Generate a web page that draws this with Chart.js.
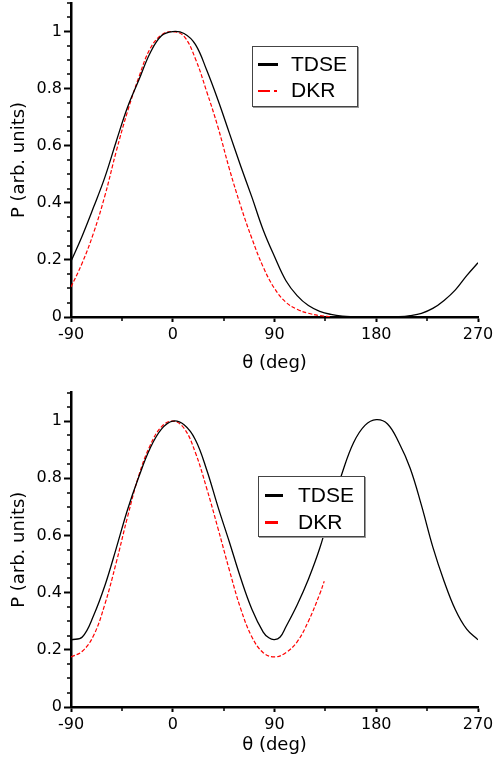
<!DOCTYPE html>
<html>
<head>
<meta charset="utf-8">
<script src="https://cdn.jsdelivr.net/npm/chart.js@4.4.1/dist/chart.umd.min.js"></script>
<style>
  body { margin: 0; background: #fff; }
  .wrap { position: absolute; left: 0; width: 494px; }
  .legend { position: absolute; border: 1.5px solid #444; box-shadow: 1px 1px 0 #999; background: #fff; }
  .legend .txt { position: absolute; font: 21px "Liberation Sans", Arial, sans-serif; line-height: 24px; color: #000; }
  .legend .ln { position: absolute; height: 0; }
</style>
</head>
<body>
<div class="wrap" style="top:0;height:383px"><canvas id="chart-top" width="494" height="383"></canvas></div>
<div class="wrap" style="top:383px;height:384px"><canvas id="chart-bottom" width="494" height="384"></canvas></div>

<!-- legends sit inside the plot areas, as in the figure -->
<div class="legend" style="left:252px;top:46px;width:104px;height:59px">
  <div class="ln" style="left:5px;top:16px;width:20px;border-top:3px solid #000"></div>
  <div class="txt" style="left:38px;top:5px">TDSE</div>
  <div class="ln" style="left:5px;top:43px;width:12px;border-top:2px solid #f00"></div>
  <div class="ln" style="left:21px;top:43px;width:3px;border-top:2px solid #f00"></div>
  <div class="txt" style="left:38px;top:31px">DKR</div>
</div>
<div class="legend" style="left:258px;top:476px;width:105px;height:59px">
  <div class="ln" style="left:6px;top:17px;width:18px;border-top:3px solid #000"></div>
  <div class="txt" style="left:39px;top:6px">TDSE</div>
  <div class="ln" style="left:6px;top:44px;width:13px;border-top:3px solid #f00"></div>
  <div class="txt" style="left:39px;top:33px">DKR</div>
</div>

<script>
// angles (deg)
const thetaFull = [-90, -80, -70, -60, -50, -40, -30, -20, -10, 0, 10, 20, 30, 40, 50, 60, 70, 80, 90,
    100, 110, 120, 130, 140, 150, 160, 170, 180, 190, 200, 210, 220, 230, 240, 250, 260, 270];
const thetaTdseBottom = [-90, -80, -70, -60, -50, -40, -30, -20, -10, 0, 10, 20, 30, 40, 50, 60, 70, 80, 85, 90,
    95, 100, 110, 120, 130, 140, 150, 160, 170, 180, 190, 200, 210, 220, 230, 240, 250, 260, 270];
const thetaDkrTop = [-90, -80, -70, -60, -50, -40, -30, -20, -10, 0, 10, 20, 30, 40, 50, 60, 70, 80, 90,
    100, 110, 120, 130, 140];
const thetaDkrBottom = [-90, -80, -70, -60, -50, -40, -30, -20, -10, 0, 10, 20, 30, 40, 50, 60, 70, 80, 90,
    100, 110, 120, 130, 134];

// top panel
const tdseTop = [0.195, 0.285, 0.385, 0.49, 0.615, 0.735, 0.83, 0.925, 0.985, 1.0, 0.993, 0.955, 0.865, 0.76,
    0.645, 0.53, 0.42, 0.305, 0.212, 0.128, 0.075, 0.04, 0.02, 0.009, 0.003, 0.001, 0, 0, 0, 0.001, 0.005,
    0.013, 0.03, 0.058, 0.095, 0.145, 0.19];
const dkrTop = [0.105, 0.19, 0.295, 0.425, 0.58, 0.72, 0.84, 0.94, 0.988, 1.0, 0.983, 0.905, 0.79, 0.665,
    0.52, 0.39, 0.275, 0.175, 0.1, 0.052, 0.027, 0.013, 0.005, 0.001];

// bottom panel
const tdseBottom = [0.235, 0.245, 0.32, 0.425, 0.555, 0.69, 0.805, 0.905, 0.972, 1.0, 0.987, 0.935, 0.83, 0.70,
    0.578, 0.452, 0.342, 0.262, 0.242, 0.236, 0.245, 0.28, 0.357, 0.447, 0.555, 0.69, 0.82, 0.925, 0.985,
    1.005, 0.99, 0.925, 0.835, 0.705, 0.56, 0.44, 0.34, 0.272, 0.235];
const dkrBottom = [0.175, 0.195, 0.25, 0.36, 0.505, 0.665, 0.81, 0.915, 0.98, 1.0, 0.975, 0.89, 0.765, 0.625,
    0.48, 0.345, 0.245, 0.19, 0.175, 0.19, 0.228, 0.3, 0.395, 0.44];

// ticks
const xMinor = [-45, 45, 135, 225];
const yMinorStep = 0.05;

function pts(xs, ys) { return xs.map((x, i) => ({ x: x, y: ys[i] })); }

// minor ticks (Chart.js has none of its own)
const minorTicks = {
    id: 'minorTicks',
    afterDraw(chart) {
        const ctx = chart.ctx, xs = chart.scales.x, ys = chart.scales.y;
        const area = chart.chartArea;
        ctx.save();
        ctx.strokeStyle = '#000';
        ctx.lineWidth = 1.5;
        ctx.beginPath();
        xMinor.forEach(v => {
            const px = Math.round(xs.getPixelForValue(v));
            ctx.moveTo(px, area.bottom);
            ctx.lineTo(px, area.bottom + 4);
        });
        for (let k = 1; k * yMinorStep <= 1.1 + 1e-9; k++) {
            if (k % 4 === 0) continue;
            const py = Math.round(ys.getPixelForValue(k * yMinorStep));
            ctx.moveTo(area.left - 4, py);
            ctx.lineTo(area.left, py);
        }
        ctx.stroke();
        ctx.restore();
    }
};

function makeChart(id, tdseX, tdse, dkrX, dkr, padTop, xHeight, titlePadBottom) {
    const ctx = document.getElementById(id).getContext('2d');
    return new Chart(ctx, {
        type: 'line',
        data: {
            datasets: [
                { label: 'TDSE', data: pts(tdseX, tdse), borderColor: '#000', borderWidth: 1.3,
                  pointRadius: 0, tension: 0.4 },
                { label: 'DKR', data: pts(dkrX, dkr), borderColor: '#ff0000', borderWidth: 1.2,
                  borderDash: [4, 2], pointRadius: 0, tension: 0.4 }
            ]
        },
        options: {
            responsive: false,
            animation: false,
            devicePixelRatio: 1,
            layout: { padding: { left: 0, right: 16, top: padTop, bottom: 0 } },
            plugins: { legend: { display: false }, tooltip: { enabled: false } },
            scales: {
                x: {
                    type: 'linear', min: -90, max: 270,
                    border: { display: true, color: '#000', width: 2.5 },
                    grid: { drawOnChartArea: false, drawTicks: true, tickLength: 5, tickColor: '#000', tickWidth: 2 },
                    ticks: { stepSize: 90, includeBounds: false, maxRotation: 0, padding: 3, color: '#000',
                             font: { family: '"DejaVu Sans", Verdana, sans-serif', size: 16 } },
                    title: { display: true, text: 'θ (deg)', color: '#000', padding: { top: 0, bottom: titlePadBottom },
                             font: { family: '"DejaVu Sans", Verdana, sans-serif', size: 18 } },
                    afterFit(s) { s.height = xHeight; s.paddingLeft = 0; s.paddingRight = 0; }
                },
                y: {
                    min: 0, max: 1.1,
                    border: { display: true, color: '#000', width: 2.5 },
                    grid: { drawOnChartArea: false, drawTicks: true, tickLength: 7, tickColor: '#000', tickWidth: 2 },
                    ticks: { stepSize: 0.2, includeBounds: false, padding: 2, color: '#000',
                             font: { family: '"DejaVu Sans", Verdana, sans-serif', size: 16 },
                             callback: v => String(+v.toFixed(2)) },
                    title: { display: true, text: 'P (arb. units)', color: '#000', padding: { top: 9, bottom: 0 },
                             font: { family: '"DejaVu Sans", Verdana, sans-serif', size: 18 } },
                    afterFit(s) { s.width = 71; s.paddingTop = 0; s.paddingBottom = 0; }
                }
            }
        },
        plugins: [minorTicks]
    });
}

makeChart('chart-top', thetaFull, tdseTop, thetaDkrTop, dkrTop, 3, 66, 9);
makeChart('chart-bottom', thetaTdseBottom, tdseBottom, thetaDkrBottom, dkrBottom, 9.5, 60, 11);
</script>
</body>
</html>
